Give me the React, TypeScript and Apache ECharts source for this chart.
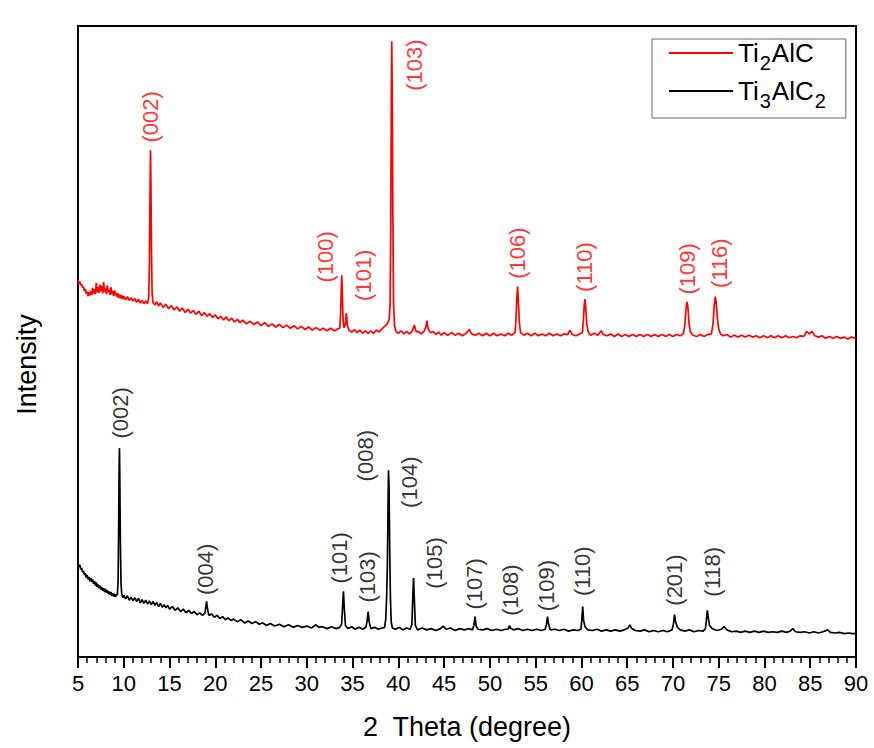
import React, { useEffect, useRef } from "react";
import * as echarts from "echarts";

// ---- Data (2θ in degrees, intensity in arbitrary offset units) ----
const ti2alcPattern: [number, number][] = [
  [5.0,59.8],[5.1,59.2],[5.2,59.5],[5.3,58.9],[5.4,59.1],[5.5,58.5],[5.6,58.7],[5.7,58.0],[5.8,58.3],[5.9,57.6],[6.0,57.9],[6.1,57.2],[6.2,57.8],[6.3,57.3],[6.4,58.0],[6.5,57.4],[6.6,58.5],[6.7,57.6],[6.8,58.3],[6.9,57.5],[7.0,59.3],[7.1,57.8],[7.2,58.6],[7.3,57.7],[7.4,59.0],[7.5,58.0],[7.6,58.8],[7.7,57.6],[7.8,59.4],[7.9,57.9],[8.0,58.4],[8.1,57.5],[8.2,58.9],[8.3,57.8],[8.4,58.2],[8.5,57.4],[8.6,58.6],[8.7,57.5],[8.8,58.0],[8.9,57.2],[9.0,58.1],[9.1,57.3],[9.2,57.7],[9.3,57.0],[9.4,57.6],[9.5,56.9],[9.6,57.4],[9.7,56.8],[9.8,57.3],[9.9,56.7],[10.0,57.2],[10.2,56.6],[10.4,57.1],[10.6,56.5],[10.8,56.9],[11.0,56.4],[11.2,56.8],[11.4,56.2],[11.6,56.7],[11.8,56.1],[12.0,56.5],[12.2,56.0],[12.4,56.4],[12.6,56.0],
  [12.72,57.0],[12.8,62.0],[12.86,72.0],[12.92,80.3],[12.97,75.0],[13.03,64.0],[13.1,57.5],[13.2,56.2],
  [13.4,55.8],[13.6,56.3],[13.8,55.6],[14.0,56.1],[14.3,55.4],[14.6,55.9],[14.9,55.2],[15.2,55.7],[15.5,55.0],[15.8,55.5],[16.1,54.8],[16.4,55.3],[16.7,54.6],[17.0,55.1],[17.3,54.5],[17.6,54.9],[17.9,54.3],[18.2,54.8],[18.5,54.1],[18.8,54.6],[19.1,54.0],[19.4,54.4],[19.7,53.8],[20.0,54.2],[20.3,53.6],[20.6,54.0],[20.9,53.4],[21.2,53.9],[21.5,53.3],[21.8,53.7],[22.1,53.1],[22.4,53.5],[22.7,53.0],[23.0,53.4],[23.4,52.8],[23.8,53.2],[24.2,52.7],[24.6,53.1],[25.0,52.5],[25.4,53.0],[25.8,52.4],[26.2,52.8],[26.6,52.3],[27.0,52.7],[27.4,52.2],[27.8,52.6],[28.2,52.1],[28.6,52.5],[29.0,52.0],[29.4,52.4],[29.8,51.9],[30.2,52.3],[30.6,51.8],[31.0,52.2],[31.4,51.8],[31.8,52.1],[32.2,51.7],[32.6,52.1],[33.0,51.7],[33.4,52.0],[33.6,52.1],
  [33.68,54.0],[33.76,58.0],[33.82,60.5],[33.88,57.5],[33.96,53.5],[34.05,52.2],
  [34.2,52.6],[34.32,54.5],[34.44,52.5],[34.6,51.8],
  [34.9,51.5],[35.2,51.9],[35.5,51.4],[35.8,51.8],[36.1,51.3],[36.4,51.7],[36.7,51.3],[37.0,51.7],[37.3,51.3],[37.6,51.8],[37.9,51.5],[38.2,52.0],[38.5,52.4],[38.8,52.8],[39.0,53.5],
  [39.1,56.0],[39.17,68.0],[39.23,88.0],[39.28,97.6],[39.33,90.0],[39.4,70.0],[39.48,56.0],[39.58,52.5],[39.75,51.6],
  [40.0,51.3],[40.3,51.7],[40.6,51.2],[40.9,51.6],[41.2,51.2],[41.5,51.6],[41.75,52.6],[41.95,51.5],[42.2,51.6],[42.5,51.2],[42.8,51.6],[43.0,52.3],[43.12,53.3],[43.25,52.0],[43.5,51.4],[43.8,51.6],[44.1,51.1],[44.4,51.5],[44.7,51.0],[45.0,51.4],[45.4,51.0],[45.8,51.4],[46.2,51.0],[46.6,51.3],[47.0,50.9],[47.4,51.3],[47.75,51.9],[48.0,51.2],[48.4,51.0],[48.8,51.3],[49.2,50.9],[49.6,51.3],[50.0,50.9],[50.4,51.3],[50.8,50.9],[51.2,51.2],[51.6,50.9],[52.0,51.3],[52.4,51.0],[52.75,51.4],
  [52.85,53.5],[52.95,57.0],[53.03,58.7],[53.11,56.5],[53.22,53.0],[53.35,51.4],
  [53.7,51.0],[54.1,51.3],[54.5,50.9],[54.9,51.3],[55.3,50.9],[55.7,51.2],[56.1,50.9],[56.5,51.3],[56.9,50.9],[57.3,51.2],[57.7,50.9],[58.1,51.2],[58.5,51.1],[58.75,51.8],[59.0,51.1],[59.4,50.9],[59.8,51.2],[60.1,51.4],
  [60.22,53.5],[60.32,56.0],[60.39,56.7],[60.47,55.5],[60.58,52.8],[60.75,51.5],
  [61.0,51.0],[61.4,51.3],[61.8,51.0],[62.15,51.7],[62.4,51.1],[62.8,50.9],[63.2,51.2],[63.6,50.8],[64.0,51.2],[64.4,50.8],[64.8,51.1],[65.2,50.8],[65.6,51.1],[66.0,50.8],[66.4,51.1],[66.8,50.8],[67.2,51.1],[67.6,50.8],[68.0,51.1],[68.4,50.8],[68.8,51.1],[69.2,50.8],[69.6,51.1],[70.0,50.8],[70.4,51.1],[70.8,50.9],[71.15,51.3],
  [71.3,52.6],[71.42,55.0],[71.53,56.3],[71.63,55.5],[71.75,53.0],[71.9,51.5],
  [72.2,51.0],[72.6,50.8],[73.0,51.1],[73.4,50.8],[73.8,51.1],[74.2,51.2],
  [74.38,52.8],[74.5,55.5],[74.62,57.1],[74.72,56.3],[74.85,53.8],[75.0,52.0],[75.2,51.2],
  [75.5,50.9],[75.9,51.1],[76.3,50.7],[76.7,51.0],[77.1,50.7],[77.5,51.0],[77.9,50.7],[78.3,51.0],[78.7,50.7],[79.1,50.9],[79.5,50.6],[79.9,50.9],[80.3,50.6],[80.7,50.9],[81.1,50.6],[81.5,50.9],[81.9,50.6],[82.3,50.9],[82.7,50.6],[83.1,50.8],[83.5,50.6],[83.9,50.9],[84.3,50.8],[84.6,51.6],[84.9,51.2],[85.2,51.6],[85.5,50.9],[85.9,50.7],[86.3,50.9],[86.7,50.5],[87.1,50.8],[87.5,50.5],[87.9,50.8],[88.3,50.5],[88.7,50.7],[89.1,50.4],[89.5,50.7],[90.0,50.5],
];

const ti3alc2Pattern: [number, number][] = [
  [5.0,15.0],[5.1,14.3],[5.2,14.6],[5.3,13.9],[5.4,14.1],[5.5,13.4],[5.6,13.7],[5.7,13.0],[5.8,13.3],[5.9,12.6],[6.0,13.0],[6.1,12.3],[6.2,12.7],[6.3,12.0],[6.4,12.5],[6.5,11.9],[6.6,12.3],[6.7,11.6],[6.8,12.0],[6.9,11.3],[7.0,11.8],[7.1,11.1],[7.2,11.5],[7.3,10.9],[7.4,11.3],[7.5,10.7],[7.6,11.1],[7.7,10.5],[7.8,10.9],[7.9,10.3],[8.0,10.8],[8.1,10.2],[8.2,10.6],[8.3,10.0],[8.4,10.4],[8.5,9.9],[8.6,10.3],[8.7,9.7],[8.8,10.1],[8.9,9.6],[9.0,10.0],[9.1,9.5],[9.2,9.9],[9.3,9.8],
  [9.38,12.0],[9.44,20.5],[9.5,31.0],[9.53,33.1],[9.57,28.0],[9.63,18.0],[9.7,11.5],[9.78,10.0],
  [9.9,9.4],[10.0,9.8],[10.2,9.2],[10.4,9.7],[10.6,9.0],[10.8,9.5],[11.0,8.9],[11.2,9.4],[11.4,8.8],[11.6,9.3],[11.8,8.6],[12.0,9.1],[12.2,8.5],[12.4,9.0],[12.6,8.4],[12.8,8.9],[13.0,8.3],[13.2,8.8],[13.4,8.2],[13.6,8.6],[13.8,8.0],[14.0,8.5],[14.2,7.9],[14.4,8.3],[14.6,7.8],[14.8,8.2],[15.0,7.6],[15.3,8.0],[15.6,7.4],[15.9,7.8],[16.2,7.2],[16.5,7.6],[16.8,7.0],[17.1,7.4],[17.4,6.9],[17.7,7.2],[18.0,6.7],[18.3,7.0],[18.6,6.6],[18.85,6.9],
  [18.95,7.8],[19.05,8.8],[19.15,7.6],
  [19.3,6.6],[19.6,6.8],[19.9,6.3],[20.2,6.6],[20.5,6.1],[20.8,6.4],[21.1,5.9],[21.4,6.2],[21.7,5.8],[22.0,6.0],[22.4,5.6],[22.8,5.9],[23.2,5.4],[23.6,5.7],[24.0,5.3],[24.4,5.6],[24.8,5.2],[25.2,5.4],[25.6,5.0],[26.0,5.3],[26.5,4.9],[27.0,5.2],[27.5,4.8],[28.0,5.1],[28.5,4.7],[29.0,5.0],[29.5,4.7],[30.0,4.9],[30.5,4.6],[31.0,5.1],[31.3,4.7],[31.7,4.8],[32.2,4.5],[32.7,4.8],[33.2,4.5],[33.6,4.7],
  [33.8,5.2],[33.9,7.8],[34.0,10.4],[34.1,7.6],[34.22,5.0],
  [34.5,4.5],[34.9,4.8],[35.3,4.4],[35.7,4.7],[36.1,4.4],[36.45,4.7],
  [36.58,5.6],[36.7,7.2],[36.82,5.5],
  [37.0,4.5],[37.4,4.7],[37.8,4.4],[38.2,4.6],[38.5,4.7],
  [38.62,6.0],[38.72,9.5],[38.8,14.5],[38.86,22.0],[38.92,29.6],[38.98,27.0],[39.05,18.0],[39.13,9.5],[39.22,5.5],[39.35,4.6],
  [39.7,4.4],[40.1,4.7],[40.5,4.3],[40.9,4.6],[41.3,4.4],
  [41.48,5.2],[41.58,9.5],[41.66,12.5],[41.75,9.0],[41.86,5.0],
  [42.1,4.3],[42.6,4.6],[43.1,4.3],[43.6,4.5],[44.1,4.2],[44.6,4.5],[44.9,4.9],[45.2,4.4],[45.7,4.6],[46.2,4.2],[46.7,4.5],[47.2,4.3],[47.7,4.5],[48.1,4.3],
  [48.25,5.0],[48.38,6.4],[48.5,4.9],
  [48.7,4.4],[49.2,4.3],[49.7,4.5],[50.2,4.2],[50.7,4.4],[51.2,4.2],[51.7,4.4],[52.0,4.4],
  [52.15,5.0],[52.25,4.6],
  [52.6,4.3],[53.1,4.5],[53.6,4.2],[54.1,4.4],[54.6,4.2],[55.1,4.4],[55.6,4.2],[56.05,4.4],
  [56.18,5.2],[56.3,6.4],[56.42,5.1],
  [56.6,4.3],[57.1,4.4],[57.6,4.2],[58.1,4.4],[58.6,4.1],[59.1,4.3],[59.6,4.2],[59.95,4.4],
  [60.05,6.0],[60.14,8.0],[60.24,5.8],[60.4,4.8],
  [60.7,4.3],[61.2,4.2],[61.7,4.4],[62.2,4.1],[62.7,4.3],[63.2,4.1],[63.7,4.3],[64.2,4.1],[64.7,4.3],[65.1,4.6],[65.3,5.1],[65.5,4.5],[65.9,4.2],[66.4,4.1],[66.9,4.3],[67.4,4.0],[67.9,4.2],[68.4,4.0],[68.9,4.2],[69.4,4.0],[69.9,4.3],
  [70.05,5.2],[70.18,6.7],[70.3,5.5],[70.5,4.7],
  [70.8,4.3],[71.3,4.1],[71.8,4.3],[72.3,4.0],[72.8,4.2],[73.3,4.1],[73.55,4.5],
  [73.65,5.8],[73.76,7.4],[73.88,6.0],[74.0,5.0],[74.3,4.5],
  [74.8,4.2],[75.3,4.4],[75.6,4.8],[75.9,4.3],[76.4,4.0],[76.9,4.1],[77.4,3.9],[77.9,4.1],[78.4,3.9],[78.9,4.1],[79.4,3.9],[79.9,4.1],[80.4,3.9],[80.9,4.0],[81.4,3.9],[81.9,4.1],[82.4,3.9],[82.8,4.1],[83.1,4.5],[83.4,4.0],[83.9,3.9],[84.4,4.0],[84.9,3.8],[85.4,4.0],[85.9,3.8],[86.4,4.0],[86.9,4.3],[87.2,3.9],[87.7,3.8],[88.2,3.9],[88.7,3.7],[89.2,3.8],[89.6,3.7],[90.0,3.7],
];

// Peak annotations (Miller indices and the 2θ / intensity where each label sits)
const ti2alcHkl = ["(002)", "(100)", "(101)", "(103)", "(106)", "(110)", "(109)", "(116)"];
const ti2alcHklTheta = [12.87, 31.99, 36.14, 41.76, 53.07, 60.39, 71.54, 75.14];
const ti2alcHklIntensity = [85.6, 63.4, 60.5, 93.8, 64.0, 61.8, 61.5, 62.4];

const ti3alc2Hkl = ["(002)", "(004)", "(101)", "(103)", "(008)", "(104)", "(105)", "(107)", "(108)", "(109)", "(110)", "(201)", "(118)"];
const ti3alc2HklTheta = [9.59, 18.88, 33.52, 36.68, 36.46, 41.27, 44.0, 48.37, 52.2, 56.24, 60.17, 70.22, 74.27];
const ti3alc2HklIntensity = [38.7, 13.9, 15.7, 12.7, 31.9, 27.7, 14.9, 11.6, 10.6, 11.3, 13.6, 12.2, 13.5];

const seriesNames = ["Ti2AlC", "Ti3AlC2"];
const legendRich: Record<string, string> = {
  Ti2AlC: "{n|Ti}{s|2}{n|AlC}",
  Ti3AlC2: "{n|Ti}{s|3}{n|AlC}{s|2}",
};

const FONT = "'Liberation Sans', Arial, Helvetica, sans-serif";
const RED = "#ff0000";
const BLACK = "#000000";

export default function App() {
  const ref = useRef<HTMLDivElement>(null);

  useEffect(() => {
    if (!ref.current) return;
    const chart = echarts.init(ref.current, null, { renderer: "svg" });

    const labelSeries = (
      name: string,
      hkl: string[],
      theta: number[],
      inten: number[],
      color: string
    ) => ({
      name,
      type: "scatter",
      silent: true,
      symbol: "circle",
      symbolSize: 1,
      itemStyle: { color: "rgba(0,0,0,0)" },
      z: 5,
      label: {
        show: true,
        position: "inside",
        rotate: 90,
        formatter: (p: any) => p.name,
        color,
        fontSize: 22,
        fontFamily: FONT,
      },
      data: hkl.map((h, i) => ({ name: h, value: [theta[i], inten[i]] })),
    });

    chart.setOption({
      animation: false,
      backgroundColor: "#ffffff",
      textStyle: { fontFamily: FONT },
      grid: {
        left: 78,
        right: 18,
        top: 26,
        bottom: 91,
        show: true,
        borderColor: "#000",
        borderWidth: 2,
        backgroundColor: "transparent",
      },
      legend: {
        data: seriesNames,
        orient: "vertical",
        left: 652,
        top: 39,
        icon: "rect",
        itemWidth: 64,
        itemHeight: 2,
        itemGap: 5,
        padding: [1, 19, 7, 17],
        borderColor: "#666",
        borderWidth: 1,
        selectedMode: false,
        formatter: (name: string) => legendRich[name] || name,
        textStyle: {
          color: "#000",
          fontFamily: FONT,
          rich: {
            n: { fontSize: 26, lineHeight: 40, color: "#000", fontFamily: FONT },
            s: {
              fontSize: 20,
              lineHeight: 14,
              verticalAlign: "bottom",
              color: "#000",
              fontFamily: FONT,
              padding: [0, 1, 0, 1],
            },
          },
        },
      },
      xAxis: {
        type: "value",
        min: 5,
        max: 90,
        interval: 5,
        name: "2  Theta (degree)",
        nameLocation: "middle",
        nameGap: 56,
        nameTextStyle: { fontSize: 27, color: "#000", fontFamily: FONT },
        axisLine: { show: true, onZero: false, lineStyle: { color: "#000", width: 2 } },
        axisTick: { show: true, inside: false, length: 11, lineStyle: { color: "#000", width: 2 } },
        minorTick: { show: true, splitNumber: 5, length: 6, lineStyle: { color: "#000", width: 1.5 } },
        axisLabel: { fontSize: 22, color: "#000", margin: 15, fontFamily: FONT },
        splitLine: { show: false },
        minorSplitLine: { show: false },
      },
      yAxis: {
        type: "value",
        min: 0,
        max: 100,
        name: "Intensity",
        nameLocation: "middle",
        nameRotate: 90,
        nameGap: 38,
        nameTextStyle: { fontSize: 27, color: "#000", fontFamily: FONT, padding: [0, 46, 0, 0] },
        axisLine: { show: true, lineStyle: { color: "#000", width: 2 } },
        axisTick: { show: false },
        axisLabel: { show: false },
        splitLine: { show: false },
      },
      series: [
        {
          name: "Ti2AlC",
          type: "line",
          symbol: "none",
          data: ti2alcPattern,
          lineStyle: { color: RED, width: 1.7 },
          itemStyle: { color: RED },
          z: 3,
        },
        {
          name: "Ti3AlC2",
          type: "line",
          symbol: "none",
          data: ti3alc2Pattern,
          lineStyle: { color: BLACK, width: 1.7 },
          itemStyle: { color: BLACK },
          z: 3,
        },
        labelSeries("Ti2AlC peaks", ti2alcHkl, ti2alcHklTheta, ti2alcHklIntensity, RED),
        labelSeries("Ti3AlC2 peaks", ti3alc2Hkl, ti3alc2HklTheta, ti3alc2HklIntensity, BLACK),
      ],
    });

    return () => chart.dispose();
  }, []);

  return (
    <div
      ref={ref}
      style={{ position: "absolute", left: 0, top: 0, width: 874, height: 748, background: "#fff" }}
    />
  );
}
